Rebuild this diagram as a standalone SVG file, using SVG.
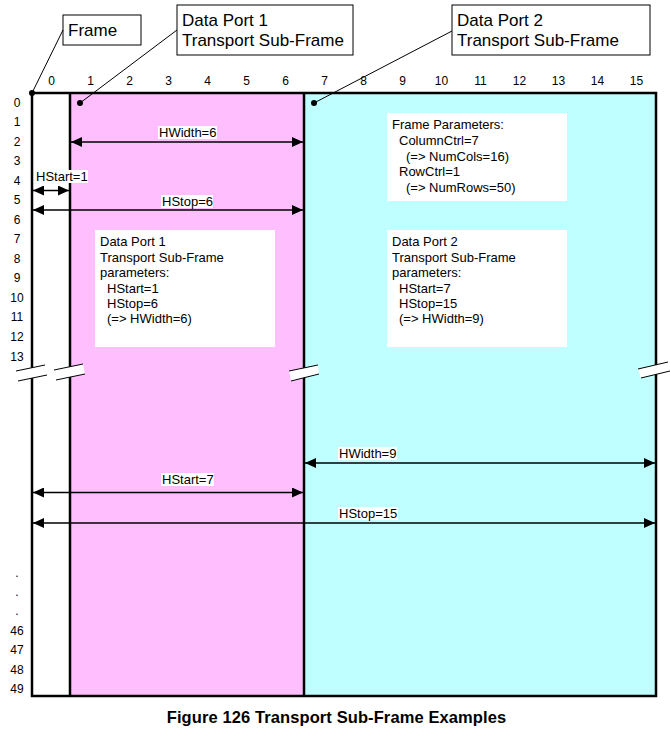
<svg xmlns="http://www.w3.org/2000/svg" width="670" height="731" viewBox="0 0 670 731">
<style>
.lbl{font-family:"Liberation Sans",Arial,sans-serif;font-size:12px;fill:#000}
.txt{font-family:"Liberation Sans",Arial,sans-serif;font-size:13px;fill:#000}
.big{font-family:"Liberation Sans",Arial,sans-serif;font-size:17px;fill:#000}
.cap{font-family:"Liberation Sans",Arial,sans-serif;font-size:16.5px;font-weight:bold;fill:#000;letter-spacing:0.1px}
.frm{stroke:#000;stroke-width:2.5;fill:none}
.lead{stroke:#000;stroke-width:1;fill:none}
.dim{stroke:#000;stroke-width:1.5;fill:none;marker-start:url(#ah);marker-end:url(#ah)}
.bg{fill:#fff}
.box{fill:#fff;stroke:#000;stroke-width:1}
.brk{fill:#fff;stroke:none}
.brkl{stroke:#000;stroke-width:1;fill:none}
</style>
<defs>
<marker id="ah" markerUnits="userSpaceOnUse" markerWidth="12" markerHeight="10" refX="11" refY="5" orient="auto-start-reverse">
<path d="M0,0 L11,5 L0,10 Z" fill="#000"/>
</marker>
</defs>
<rect width="670" height="731" fill="#fff"/>

<g id="frame">
<rect x="70" y="93" width="234" height="603" fill="#FFBFFF"/>
<rect x="304" y="93" width="352" height="603" fill="#BFFFFF"/>
<rect x="32" y="93" width="624" height="603" class="frm"/>
<line x1="70" y1="93" x2="70" y2="696" class="frm"/>
<line x1="304" y1="93" x2="304" y2="696" class="frm"/>
</g>

<g id="breaks">
<polygon points="16,371 45,365 47,375 18,381" class="brk"/>
<line x1="16" y1="371" x2="45" y2="365" class="brkl"/><line x1="18" y1="381" x2="47" y2="375" class="brkl"/>
<polygon points="54,370 83,364 85,374 56,380" class="brk"/>
<line x1="54" y1="370" x2="83" y2="364" class="brkl"/><line x1="56" y1="380" x2="85" y2="374" class="brkl"/>
<polygon points="289,371 318,365 319,374 291,381" class="brk"/>
<line x1="289" y1="371" x2="318" y2="365" class="brkl"/><line x1="291" y1="381" x2="319" y2="374" class="brkl"/>
<polygon points="638,369 668,362 670,371 641,378" class="brk"/>
<line x1="638" y1="369" x2="668" y2="362" class="brkl"/><line x1="641" y1="378" x2="670" y2="371" class="brkl"/>
</g>

<g id="col-labels" class="lbl" text-anchor="middle">
<text x="51.5" y="85">0</text><text x="90.5" y="85">1</text><text x="129.5" y="85">2</text><text x="168.5" y="85">3</text>
<text x="207.5" y="85">4</text><text x="246.5" y="85">5</text><text x="285.5" y="85">6</text><text x="324.5" y="85">7</text>
<text x="363.5" y="85">8</text><text x="402.5" y="85">9</text><text x="441.5" y="85">10</text><text x="480.5" y="85">11</text>
<text x="519.5" y="85">12</text><text x="558.5" y="85">13</text><text x="597.5" y="85">14</text><text x="636.5" y="85">15</text>
</g>

<g id="row-labels" class="lbl" text-anchor="middle">
<text x="17" y="106.5">0</text><text x="17" y="126">1</text><text x="17" y="145.6">2</text><text x="17" y="165.1">3</text>
<text x="17" y="184.7">4</text><text x="17" y="204.2">5</text><text x="17" y="223.7">6</text><text x="17" y="243.3">7</text>
<text x="17" y="262.8">8</text><text x="17" y="282.4">9</text><text x="17" y="301.9">10</text><text x="17" y="321.4">11</text>
<text x="17" y="341">12</text><text x="17" y="360.5">13</text>
<text x="17" y="577">.</text><text x="17" y="596">.</text><text x="17" y="615">.</text>
<text x="17" y="634.5">46</text><text x="17" y="654">47</text><text x="17" y="673.5">48</text><text x="17" y="693">49</text>
</g>

<g id="callout-frame">
<rect x="63" y="15" width="78" height="30" class="box"/>
<text x="68" y="36" class="big">Frame</text>
</g>
<g id="callout-dp1">
<rect x="177" y="5" width="176" height="50" class="box"/>
<text x="182" y="25.5" class="big">Data Port 1</text>
<text x="182" y="46" class="big">Transport Sub-Frame</text>
</g>
<g id="callout-dp2">
<rect x="452" y="5" width="198" height="50" class="box"/>
<text x="457" y="25.5" class="big">Data Port 2</text>
<text x="457" y="46" class="big">Transport Sub-Frame</text>
</g>

<g id="connectors">
<line x1="63" y1="30" x2="32" y2="93" class="lead"/>
<circle cx="32" cy="93" r="3" fill="#000"/>
<line x1="177" y1="30" x2="80" y2="103" class="lead"/>
<circle cx="80" cy="103" r="3" fill="#000"/>
<line x1="452" y1="31" x2="314" y2="103" class="lead"/>
<circle cx="314" cy="103" r="3" fill="#000"/>

<line x1="71" y1="142" x2="303" y2="142" class="dim"/>
<line x1="33" y1="190.5" x2="69" y2="190.5" class="dim"/>
<line x1="33" y1="210" x2="303" y2="210" class="dim"/>
<line x1="305" y1="463" x2="655" y2="463" class="dim"/>
<line x1="33" y1="492.5" x2="303" y2="492.5" class="dim"/>
<line x1="33" y1="523" x2="655" y2="523" class="dim"/>
</g>

<g id="dim-labels">
<rect x="158" y="126" width="59" height="13" class="bg"/><text x="159" y="137" class="txt">HWidth=6</text>
<rect x="35" y="170" width="53" height="13" class="bg"/><text x="36" y="181" class="txt">HStart=1</text>
<rect x="161" y="195" width="52" height="13" class="bg"/><text x="162" y="206" class="txt">HStop=6</text>
<rect x="338" y="447" width="59" height="13" class="bg"/><text x="339" y="458" class="txt">HWidth=9</text>
<rect x="161" y="473" width="53" height="13" class="bg"/><text x="162" y="484" class="txt">HStart=7</text>
<rect x="338" y="507" width="60" height="13" class="bg"/><text x="339" y="518" class="txt">HStop=15</text>
</g>

<g id="dp1-params">
<rect x="95" y="230" width="180" height="117" class="bg"/>
<text x="100" y="246" class="txt">Data Port 1</text>
<text x="100" y="261.5" class="txt">Transport Sub-Frame</text>
<text x="100" y="277" class="txt">parameters:</text>
<text x="107" y="292.5" class="txt">HStart=1</text>
<text x="107" y="308" class="txt">HStop=6</text>
<text x="107" y="323.3" class="txt">(=&gt; HWidth=6)</text>
</g>

<g id="frame-params">
<rect x="387" y="113" width="180" height="88" class="bg"/>
<text x="392" y="129.3" class="txt">Frame Parameters:</text>
<text x="399" y="145" class="txt">ColumnCtrl=7</text>
<text x="406" y="161" class="txt">(=&gt; NumCols=16)</text>
<text x="399" y="176" class="txt">RowCtrl=1</text>
<text x="406" y="191.7" class="txt">(=&gt; NumRows=50)</text>
</g>

<g id="dp2-params">
<rect x="387" y="230" width="180" height="117" class="bg"/>
<text x="392" y="246" class="txt">Data Port 2</text>
<text x="392" y="261.5" class="txt">Transport Sub-Frame</text>
<text x="392" y="277" class="txt">parameters:</text>
<text x="399" y="292.5" class="txt">HStart=7</text>
<text x="399" y="308" class="txt">HStop=15</text>
<text x="399" y="323.3" class="txt">(=&gt; HWidth=9)</text>
</g>

<text x="336.5" y="723" class="cap" text-anchor="middle">Figure 126 Transport Sub-Frame Examples</text>
</svg>
